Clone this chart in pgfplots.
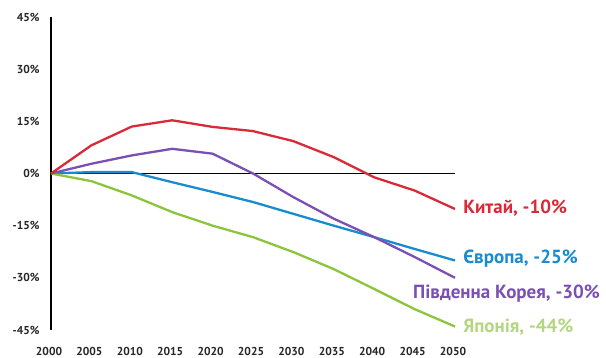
\documentclass[border=0pt]{standalone}
\usepackage{pgfplots}
\pgfplotsset{compat=1.18}
\usepackage{fontspec}
\setmainfont{PT Sans}
\definecolor{cred}{RGB}{216,42,56}
\definecolor{cblue}{RGB}{24,140,206}
\definecolor{cpurple}{RGB}{122,80,180}
\definecolor{cgreen}{RGB}{140,196,60}
\definecolor{cgreenlbl}{RGB}{180,214,128}
\begin{document}
\begin{tikzpicture}
\begin{axis}[
  at={(51bp,28bp)}, anchor=south west,
  scale only axis, width=404bp, height=313bp,
  xmin=2000, xmax=2050, ymin=-45, ymax=45,
  axis x line=bottom, axis y line=left,
  x axis line style={draw=none},
  y axis line style={-, black, line width=1.3bp},
  major tick length=0pt,
  xtick={2000,2005,...,2050},
  xticklabels={2000,2005,2010,2015,2020,2025,2030,2035,2040,2045,2050},
  ytick={-45,-30,-15,0,15,30,45},
  yticklabels={-45\%,-30\%,-15\%,0\%,15\%,30\%,45\%},
  tick label style={font=\fontsize{11.5bp}{12bp}\selectfont\bfseries, text=black!85},
  xticklabel style={yshift=-14bp, xshift=-2bp},
  yticklabel style={xshift=-8bp},
  clip=false,
  every axis plot/.append style={line width=2.3bp, line join=round},
]
\addplot[black, line width=1.3bp] coordinates {(2000,0) (2050,0)};
\addplot[cblue] coordinates {(2000,0) (2005,0.4) (2010,0.4) (2015,-2.5) (2020,-5.3) (2025,-8.2) (2030,-11.6) (2035,-15) (2040,-18.3) (2045,-21.7) (2050,-25)};
\addplot[cgreen] coordinates {(2000,0) (2005,-2.2) (2010,-6.3) (2015,-11.1) (2020,-15) (2025,-18.3) (2030,-22.6) (2035,-27.5) (2040,-33.2) (2045,-39) (2050,-44)};
\addplot[cpurple] coordinates {(2000,0) (2005,2.8) (2010,5.2) (2015,7.1) (2020,5.7) (2025,0) (2030,-6.8) (2035,-13) (2040,-18.3) (2045,-24) (2050,-30)};
\addplot[cred] coordinates {(2000,0) (2005,8.1) (2010,13.5) (2015,15.3) (2020,13.4) (2025,12.2) (2030,9.3) (2035,4.7) (2040,-1.1) (2045,-4.9) (2050,-10.2)};
\begin{scope}[every node/.style={font=\fontsize{19bp}{20bp}\selectfont\bfseries, anchor=west, inner sep=0pt}]
\node[text=cred] at (axis cs:2051.0,-10.0) {Китай, -10\%};
\node[text=cblue] at (axis cs:2051.0,-24.4) {Європа, -25\%};
\node[text=cpurple] at (axis cs:2044.8,-34.5) {Південна Корея, -30\%};
\node[text=cgreenlbl] at (axis cs:2051.0,-44.2) {Японія, -44\%};
\end{scope}
\end{axis}
\pgfresetboundingbox
\path[use as bounding box] (0,0) rectangle (606bp,358bp);
\end{tikzpicture}
\end{document}
